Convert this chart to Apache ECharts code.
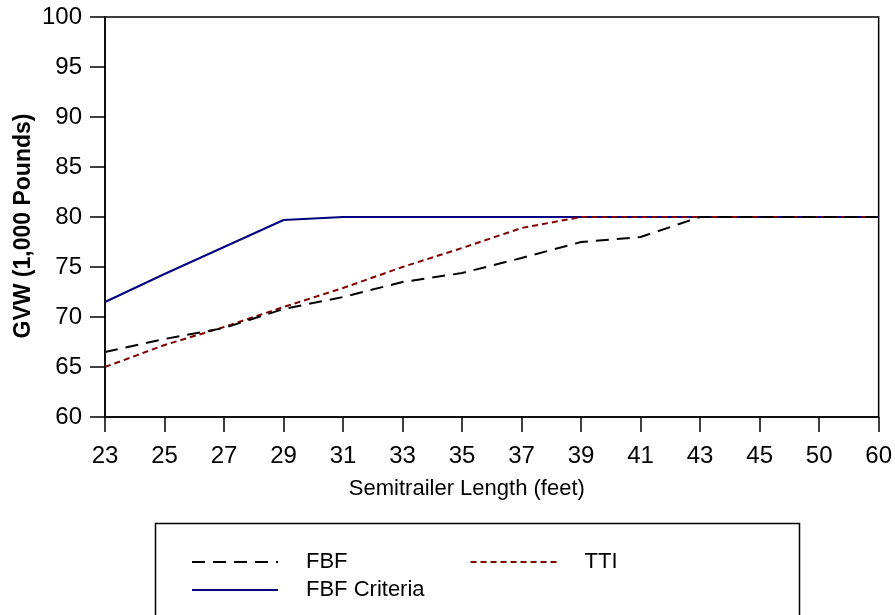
<!DOCTYPE html>
<html>
<head>
<meta charset="utf-8">
<script src="https://cdn.jsdelivr.net/npm/echarts@6/dist/echarts.min.js"></script>
<style>
  html, body { margin: 0; padding: 0; background: #fff; }
  #chart { width: 895px; height: 615px; }
</style>
</head>
<body>
<div id="chart"></div>
<script>
// semitrailer lengths (feet), evenly spaced on the axis
const lengths = ['23', '25', '27', '29', '31', '33', '35', '37', '39', '41', '43', '45', '50', '60']

// GVW in 1,000 lb
const fbf = [66.5, 67.8, 68.9, 70.8, 72.0, 73.5, 74.4, 75.9, 77.5, 78.0, 80, 80, 80, 80]
const tti = [65.0, 67.2, 69.0, 71.0, 72.9, 75.0, 76.9, 78.9, 80, 80, 80, 80, 80, 80]
const fbfCriteria = [71.5, 74.3, 77.0, 79.7, 80, 80, 80, 80, 80, 80, 80, 80, 80, 80]

const font = 'Liberation Sans, Arial, sans-serif'

const chart = echarts.init(document.getElementById('chart'))

// legend entries share the same look
const legendBase = {
  left: 191,
  padding: 0,
  itemWidth: 86,
  itemHeight: 14,
  itemStyle: { opacity: 0 },
  textStyle: { fontSize: 22, color: '#000', fontFamily: font, padding: [0, 0, 0, 23] }
}

const option = {
  animation: false,
  backgroundColor: '#fff',
  textStyle: { fontFamily: font },
  grid: {
    left: 105,
    right: 14,
    top: 17,
    bottom: 198,
    show: true,
    borderColor: '#000',
    borderWidth: 1.5
  },
  legend: [
    Object.assign({}, legendBase, { data: ['FBF', 'TTI'], top: 551, itemGap: 122 }),
    Object.assign({}, legendBase, { data: ['FBF Criteria'], top: 579 })
  ],
  graphic: [
    {
      type: 'rect',
      left: 153,
      top: 521,
      shape: { width: 644, height: 150 },
      style: { fill: 'none', stroke: '#000', lineWidth: 1.5 }
    }
  ],
  xAxis: {
    type: 'category',
    data: lengths,
    boundaryGap: false,
    name: 'Semitrailer Length (feet)',
    nameLocation: 'middle',
    nameGap: 61,
    nameMoveOverlap: false,
    nameTextStyle: { fontSize: 22, color: '#000', fontFamily: font, padding: [0, 50, 0, 0] },
    axisLine: { lineStyle: { color: '#000', width: 1.5 } },
    axisTick: { inside: false, length: 15, lineStyle: { color: '#000', width: 1.5 } },
    axisLabel: { fontSize: 24, color: '#000', margin: 27, fontFamily: font },
    splitLine: { show: false }
  },
  yAxis: {
    type: 'value',
    min: 60,
    max: 100,
    interval: 5,
    name: 'GVW (1,000 Pounds)',
    nameLocation: 'middle',
    nameGap: 70,
    nameMoveOverlap: false,
    nameTextStyle: { fontSize: 23, fontWeight: 'bold', color: '#000', fontFamily: font, padding: [0, 18, 0, 0] },
    axisLine: { show: true, lineStyle: { color: '#000', width: 1.5 } },
    axisTick: { show: true, inside: false, length: 15, lineStyle: { color: '#000', width: 1.5 } },
    axisLabel: { fontSize: 24, color: '#000', margin: 23, fontFamily: font },
    splitLine: { show: false }
  },
  series: [
    {
      name: 'FBF Criteria',
      type: 'line',
      data: fbfCriteria,
      symbol: 'none',
      lineStyle: { color: '#000080', width: 2, type: 'solid' },
      itemStyle: { color: '#000080' }
    },
    {
      name: 'TTI',
      type: 'line',
      data: tti,
      symbol: 'none',
      lineStyle: { color: '#800000', width: 2, type: [6, 4] },
      itemStyle: { color: '#800000' }
    },
    {
      name: 'FBF',
      type: 'line',
      data: fbf,
      symbol: 'none',
      lineStyle: { color: '#000', width: 2, type: [13, 8] },
      itemStyle: { color: '#000' }
    }
  ]
}

chart.setOption(option)
</script>
</body>
</html>
